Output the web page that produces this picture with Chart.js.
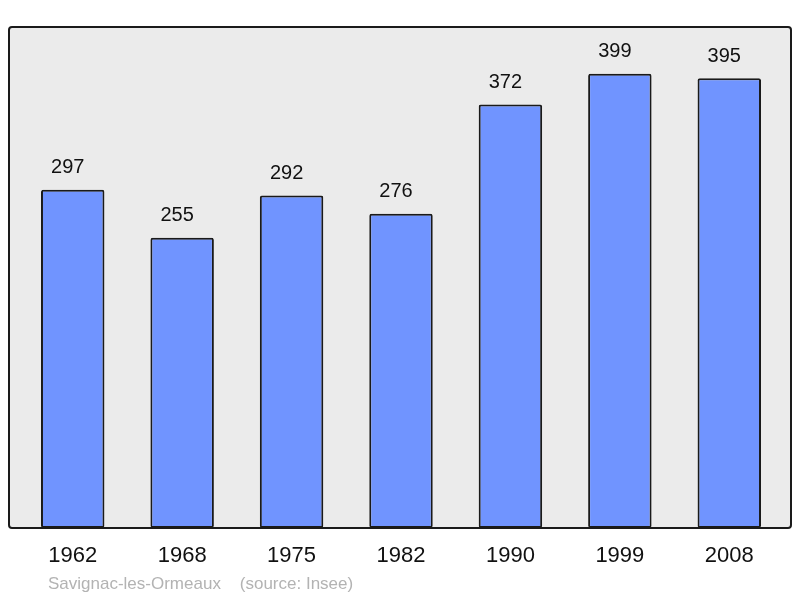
<!DOCTYPE html>
<html>
<head>
<meta charset="utf-8">
<script src="https://cdn.jsdelivr.net/npm/chart.js@4"></script>
<style>
  html, body { margin: 0; padding: 0; background: #fff; }
  canvas { display: block; }
</style>
</head>
<body>
<canvas id="popChart" width="800" height="598"></canvas>
<script>
// Population by census year
const years = ["1962", "1968", "1975", "1982", "1990", "1999", "2008"];
const population = [297, 255, 292, 276, 372, 399, 395];
const footerText = "Savignac-les-Ormeaux    (source: Insee)";

const FONT = "'Liberation Sans', Arial, sans-serif";

// frame behind the bars + labels/years/footer on top
const decorations = {
    id: 'decorations',
    beforeDatasetsDraw(chart) {
        const ctx = chart.ctx;
        ctx.save();
        ctx.beginPath();
        ctx.roundRect(9, 27, 782, 501, 3);
        ctx.fillStyle = '#ebebeb';
        ctx.fill();
        ctx.restore();
    },
    afterDatasetsDraw(chart) {
        const ctx = chart.ctx;
        const meta = chart.getDatasetMeta(0);
        ctx.save();
        ctx.beginPath();
        ctx.roundRect(9, 27, 782, 501, 3);
        ctx.lineWidth = 2;
        ctx.strokeStyle = '#1a1a1a';
        ctx.stroke();

        ctx.textAlign = 'center';
        ctx.textBaseline = 'middle';
        ctx.fillStyle = '#111';
        ctx.font = '20px ' + FONT;
        meta.data.forEach((bar, i) => {
            ctx.fillText(String(population[i]), bar.x - 5, bar.y - 22);
        });

        ctx.font = '22px ' + FONT;
        meta.data.forEach((bar, i) => {
            ctx.fillText(years[i], bar.x, 556);
        });

        ctx.textAlign = 'left';
        ctx.font = '17px ' + FONT;
        ctx.fillStyle = '#b3b3b3';
        ctx.fillText(footerText, 48, 584);
        ctx.restore();
    }
};

const ctx = document.getElementById('popChart').getContext('2d');
const popChart = new Chart(ctx, {
    type: 'bar',
    data: {
        labels: years,
        datasets: [{
            data: population,
            backgroundColor: '#7094ff',
            borderColor: '#1a1a1a',
            borderWidth: 2,
            borderRadius: 2,
            borderSkipped: false,
            categoryPercentage: 1,
            barPercentage: 0.58
        }]
    },
    options: {
        responsive: false,
        animation: false,
        layout: { padding: { top: 27, bottom: 70, left: 18, right: 16 } },
        scales: {
            x: { display: false },
            y: { display: false, min: 0, max: 440 }
        },
        plugins: {
            legend: { display: false },
            tooltip: { enabled: false }
        }
    },
    plugins: [decorations]
});
</script>
</body>
</html>
